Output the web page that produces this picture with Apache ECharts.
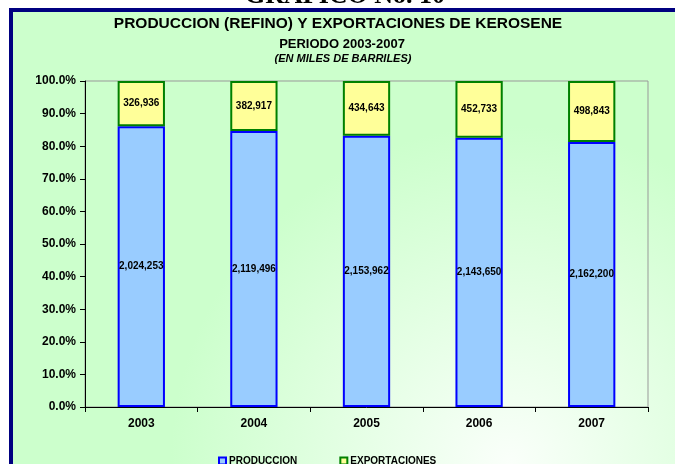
<!DOCTYPE html>
<html>
<head>
<meta charset="utf-8">
<script src="https://cdn.jsdelivr.net/npm/echarts@6/dist/echarts.min.js"></script>
<style>
  html, body { margin: 0; padding: 0; background: #fff; }
  #main { width: 675px; height: 464px; }
</style>
</head>
<body>
<div id="main"></div>
<script>
// datos del grafico (miles de barriles)
const years = ["2003", "2004", "2005", "2006", "2007"];
const produccion = [2024253, 2119496, 2153962, 2143650, 2162200];
const exportaciones = [326936, 382917, 434643, 452733, 498843];
const yTicks = [0, 10, 20, 30, 40, 50, 60, 70, 80, 90, 100];

const FONT = "Arial, 'Liberation Sans', sans-serif";

// porcentaje de cada serie sobre el total del año
const total = years.map((y, i) => produccion[i] + exportaciones[i]);
const prodPct = produccion.map((v, i) => v / total[i] * 100);
const expPct = exportaciones.map((v, i) => v / total[i] * 100);

const fmt = v => v.toLocaleString("en-US");

let myChart = echarts.init(document.getElementById("main"));
let option = {
  animation: false,
  graphic: [
    {
      type: "rect", z: -10, silent: true,
      shape: { x: 13, y: 12, width: 662, height: 452 },
      style: {
        fill: new echarts.graphic.RadialGradient(0.75, 1.0, 0.75, [
          { offset: 0, color: "#FAFFFA" },
          { offset: 1, color: "#CCFFCC" }
        ])
      }
    },
    {
      // titulo de la pagina, cortado arriba
      type: "text", x: 345, y: -4, z: 1,
      style: {
        text: "GRAFICO No. 10", font: "bold 26px 'Liberation Serif', 'Times New Roman', serif",
        fill: "#000", textAlign: "center", textVerticalAlign: "middle"
      }
    },
    { type: "rect", z: 5, shape: { x: 9, y: 8, width: 666, height: 4 }, style: { fill: "#000080" } },
    { type: "rect", z: 5, shape: { x: 9, y: 8, width: 4, height: 456 }, style: { fill: "#000080" } },
    {
      type: "text", x: 338, y: 24,
      style: { text: "PRODUCCION (REFINO) Y EXPORTACIONES DE KEROSENE", font: "bold 15.5px " + FONT, fill: "#000", textAlign: "center", textVerticalAlign: "middle" }
    },
    {
      type: "text", x: 342, y: 44,
      style: { text: "PERIODO 2003-2007", font: "bold 13px " + FONT, fill: "#000", textAlign: "center", textVerticalAlign: "middle" }
    },
    {
      type: "text", x: 343, y: 59,
      style: { text: "(EN MILES DE BARRILES)", font: "italic bold 11px " + FONT, fill: "#000", textAlign: "center", textVerticalAlign: "middle" }
    }
  ],
  grid: {
    left: 85, right: 27, top: 81, bottom: 57,
    show: true, borderColor: "#999", borderWidth: 1, backgroundColor: "transparent"
  },
  legend: {
    left: 213, top: 451,
    itemWidth: 7, itemHeight: 7, itemGap: 42, icon: "rect",
    textStyle: { fontFamily: FONT, fontWeight: "bold", fontSize: 10, color: "#000", padding: [0, 0, 0, -2] },
    data: ["PRODUCCION", "EXPORTACIONES"]
  },
  xAxis: {
    type: "category",
    data: years,
    axisLine: { lineStyle: { color: "#000" } },
    axisTick: { show: true, length: 5, lineStyle: { color: "#000" } },
    axisLabel: { fontFamily: FONT, fontWeight: "bold", fontSize: 12, color: "#000", margin: 11 }
  },
  yAxis: {
    type: "value",
    min: yTicks[0], max: yTicks[yTicks.length - 1], interval: 10,
    axisLine: { show: true, lineStyle: { color: "#000" } },
    axisTick: { show: true, length: 5, lineStyle: { color: "#000" } },
    splitLine: { show: false },
    axisLabel: {
      fontFamily: FONT, fontWeight: "bold", fontSize: 12, color: "#000", margin: 9,
      formatter: v => v.toFixed(1) + "%"
    }
  },
  series: [
    {
      name: "PRODUCCION",
      type: "bar",
      stack: "total",
      barWidth: "42%",
      data: prodPct,
      itemStyle: { color: "#99CCFF", borderColor: "#0000FF", borderWidth: 2 },
      label: {
        show: true, position: "inside",
        fontFamily: FONT, fontWeight: "bold", fontSize: 10, color: "#000",
        formatter: p => fmt(produccion[p.dataIndex])
      }
    },
    {
      name: "EXPORTACIONES",
      type: "bar",
      stack: "total",
      data: expPct,
      itemStyle: { color: "#FFFF99", borderColor: "#008000", borderWidth: 2 },
      label: {
        show: true, position: "inside",
        fontFamily: FONT, fontWeight: "bold", fontSize: 10, color: "#000",
        formatter: p => fmt(exportaciones[p.dataIndex])
      }
    }
  ]
};
myChart.setOption(option);
</script>
</body>
</html>
